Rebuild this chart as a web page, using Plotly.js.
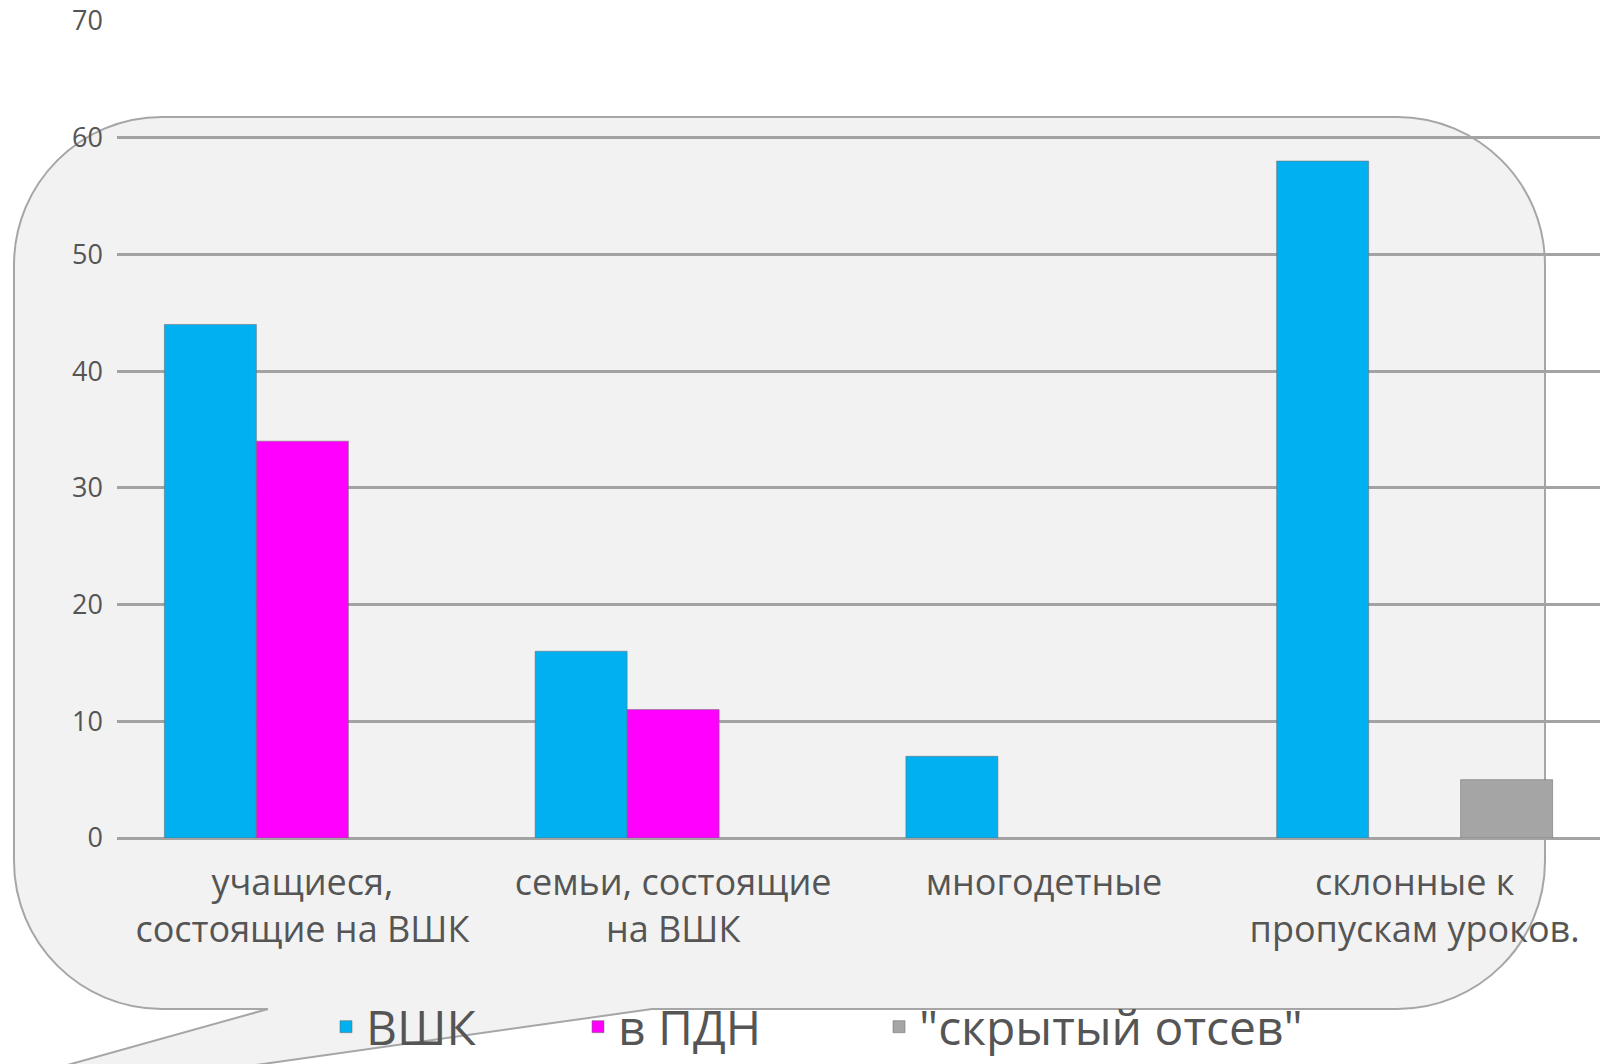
<!DOCTYPE html>
<html>
<head>
<meta charset="utf-8">
<script src="https://cdn.plot.ly/plotly-3.0.1.min.js"></script>
<style>html,body{margin:0;padding:0;background:#fff;}#chart{width:1603px;height:1064px;}</style>
</head>
<body>
<div id="chart"></div>
<script>
// ---- data ----
const categories = [
  "учащиеся,<br>состоящие на ВШК",
  "семьи, состоящие<br>на ВШК",
  "многодетные<br> ",
  "склонные к<br>пропускам уроков."
];
const seriesNames = ["ВШК", "в ПДН", "\"скрытый отсев\""];
const vshk   = [44, 16, 7, 58];
const pdn    = [34, 11, null, null];
const otsev  = [null, null, null, 5];
const yTicks = [0, 10, 20, 30, 40, 50, 60, 70];

// ---- layout geometry (pixels) ----
const W = 1603, H = 1064;
const M = {l: 117, r: 3, t: 21, b: 226, autoexpand: false};
const PW = W - M.l - M.r, PH = H - M.t - M.b;
const px = x => (x - M.l) / PW;
const py = y => (H - M.b - y) / PH;

// speech bubble decoration path, built in pixels then converted to paper units
function bubblePath() {
  const L = 14, R = 1545, T = 117, B = 1009, r = 148, k = 0.5523 * r;
  const tailA = 268, tailB = 652, tip = [-126, 1119];
  const P = (x, y) => px(x).toFixed(5) + ',' + py(y).toFixed(5);
  return 'M' + P(L + r, T) +
    ' L' + P(R - r, T) +
    ' C' + P(R - r + k, T) + ' ' + P(R, T + r - k) + ' ' + P(R, T + r) +
    ' L' + P(R, B - r) +
    ' C' + P(R, B - r + k) + ' ' + P(R - r + k, B) + ' ' + P(R - r, B) +
    ' L' + P(tailB, B) +
    ' L' + P(tip[0], tip[1]) +
    ' L' + P(tailA, B) +
    ' L' + P(L + r, B) +
    ' C' + P(L + r - k, B) + ' ' + P(L, B - r + k) + ' ' + P(L, B - r) +
    ' L' + P(L, T + r) +
    ' C' + P(L, T + r - k) + ' ' + P(L + r - k, T) + ' ' + P(L + r, T) + ' Z';
}

const colors = ["#00B0F0", "#FF00FF", "#A5A5A5"];
const values = [vshk, pdn, otsev];
const legends = ["legend", "legend2", "legend3"];

const traces = values.map((v, i) => ({
  type: 'bar',
  name: seriesNames[i],
  x: categories,
  y: v,
  legend: legends[i],
  marker: {color: colors[i], line: {color: 'rgba(110,110,110,0.55)', width: 1}},
  hoverinfo: 'none'
}));

const legendFont = {family: 'Open Sans, sans-serif', size: 48, color: '#555555'};
const legendY = py(1027);
function mkLegend(textStartPx) {
  return {
    x: px(textStartPx - 40), xanchor: 'left',
    y: legendY, yanchor: 'middle',
    orientation: 'h', bgcolor: 'rgba(0,0,0,0)', borderwidth: 0,
    font: legendFont, itemclick: false, itemdoubleclick: false
  };
}

const layout = {
  width: W, height: H,
  margin: M,
  paper_bgcolor: '#ffffff',
  plot_bgcolor: 'rgba(0,0,0,0)',
  barmode: 'group',
  bargap: 0.2556,
  bargroupgap: 0,
  showlegend: true,
  legend: mkLegend(366),
  legend2: mkLegend(618),
  legend3: mkLegend(919),
  xaxis: {
    type: 'category',
    range: [-0.5, 3.5],
    showgrid: false,
    showline: false,
    zeroline: false,
    ticks: '',
    ticklabelstandoff: 20,
    tickfont: {family: 'Open Sans, sans-serif', size: 36, color: '#555555'},
    fixedrange: true
  },
  yaxis: {
    range: [0, 70],
    tickvals: yTicks,
    ticktext: yTicks.map(String),
    showgrid: true,
    gridcolor: '#a3a3a3',
    gridwidth: 3,
    zeroline: true,
    zerolinecolor: '#a3a3a3',
    zerolinewidth: 3,
    showline: false,
    ticks: '',
    ticklabelstandoff: 13,
    tickfont: {family: 'Open Sans, sans-serif', size: 27, color: '#555555'},
    fixedrange: true
  },
  shapes: [{
    type: 'path',
    xref: 'paper', yref: 'paper',
    path: bubblePath(),
    fillcolor: '#F2F2F2',
    line: {color: '#A6A6A6', width: 2},
    layer: 'below'
  }]
};

Plotly.newPlot('chart', traces, layout, {displayModeBar: false, staticPlot: true});
</script>
</body>
</html>
